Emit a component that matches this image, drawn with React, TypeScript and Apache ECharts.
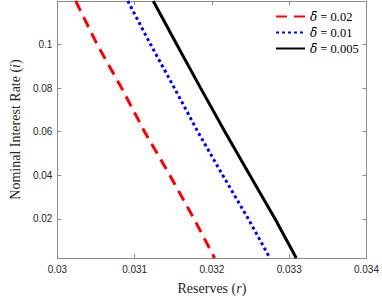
import React, { useEffect, useRef } from "react";
import * as echarts from "echarts";

// Nominal interest rate (y) values at which reserves were read
const interestRates = [0.12, 0.1, 0.08, 0.06, 0.04, 0.02, 0.002];
// Reserves for each delta-bar
const reservesD002 = [0.030237, 0.030515, 0.030832, 0.031128, 0.031455, 0.031768, 0.032035];
const reservesD001 = [0.030911, 0.031207, 0.031515, 0.031817, 0.03214, 0.03247, 0.032749];
const reservesD0005 = [0.031241, 0.031545, 0.031854, 0.032168, 0.032491, 0.032816, 0.033091];

const deltaLabels = ["0.02", "0.01", "0.005"];
const xTicks = [0.03, 0.031, 0.032, 0.033, 0.034];
const yTicks = [0.02, 0.04, 0.06, 0.08, 0.1];

const SERIF = "'DejaVu Serif', 'Liberation Serif', serif";
const SERIF2 = "'Liberation Serif', 'DejaVu Serif', serif";
const SANS = "'Liberation Sans', Arial, sans-serif";
const AXIS_COLOR = "#8a8a8a";
const TEXT_COLOR = "#262626";

const fmt = (v: number) => String(+Number(v).toFixed(4));

export default function App() {
  const ref = useRef<HTMLDivElement>(null);
  useEffect(() => {
    if (!ref.current) return;
    const chart = echarts.init(ref.current, undefined, { renderer: "svg" });
    const pairs = (xs: number[]) => xs.map((x, i) => [x, interestRates[i]]);
    const names = deltaLabels.map((d) => `δ̄ = ${d}`);
    const axisLine = { show: true, lineStyle: { color: AXIS_COLOR, width: 1 } };
    const tickInside = (vals: number[]) => ({
      show: true,
      inside: true,
      length: 4,
      customValues: vals,
      lineStyle: { color: AXIS_COLOR },
    });
    chart.setOption({
      animation: false,
      grid: { left: 40, right: 12, top: 1, bottom: 33, containLabel: false },
      legend: {
        orient: "vertical",
        left: 275,
        top: 10,
        padding: 0,
        itemWidth: 29,
        itemHeight: 14,
        itemGap: 3,
        data: names,
        itemStyle: { opacity: 0, borderWidth: 0 },
        formatter: (n: string) => `{i|δ̄}{t| ${n.slice(n.indexOf("="))}}`,
        textStyle: {
          color: "#000",
          rich: {
            i: { fontFamily: SERIF, fontStyle: "italic", fontSize: 12, color: "#000" },
            t: { fontFamily: SERIF2, fontSize: 12.5, color: "#000" },
          },
        },
      },
      xAxis: [
        {
          type: "value",
          position: "bottom",
          min: 0.03,
          max: 0.034,
          axisLine,
          axisTick: tickInside(xTicks),
          splitLine: { show: false },
          axisLabel: {
            customValues: xTicks,
            formatter: fmt,
            color: TEXT_COLOR,
            fontFamily: SANS,
            fontSize: 10,
            margin: 6,
          },
          name: "{a|Reserves (}{b|r}{a|)}",
          nameLocation: "middle",
          nameGap: 23,
          nameTextStyle: {
            rich: {
              a: { fontFamily: SERIF2, fontSize: 14, color: TEXT_COLOR },
              b: { fontFamily: SERIF2, fontSize: 14, fontStyle: "italic", color: TEXT_COLOR },
            },
          },
        },
        {
          type: "value",
          position: "top",
          min: 0.03,
          max: 0.034,
          axisLine,
          axisTick: tickInside(xTicks),
          axisLabel: { show: false },
          splitLine: { show: false },
        },
      ],
      yAxis: [
        {
          type: "value",
          position: "left",
          min: 0.002,
          max: 0.12,
          axisLine,
          axisTick: tickInside(yTicks),
          splitLine: { show: false },
          axisLabel: {
            customValues: yTicks,
            formatter: fmt,
            color: TEXT_COLOR,
            fontFamily: SANS,
            fontSize: 10,
            margin: 5,
          },
          name: "{a|Nominal Interest Rate (}{b|i}{a|)}",
          nameLocation: "middle",
          nameGap: 24,
          nameTextStyle: {
            rich: {
              a: { fontFamily: SERIF2, fontSize: 14, color: TEXT_COLOR },
              b: { fontFamily: SERIF2, fontSize: 14, fontStyle: "italic", color: TEXT_COLOR },
            },
          },
        },
        {
          type: "value",
          position: "right",
          min: 0.002,
          max: 0.12,
          axisLine,
          axisTick: tickInside(yTicks),
          axisLabel: { show: false },
          splitLine: { show: false },
        },
      ],
      series: [
        {
          name: names[0],
          type: "line",
          data: pairs(reservesD002),
          showSymbol: false,
          symbol: "none",
          lineStyle: { color: "#ff0000", width: 3, type: [11, 7] },
          itemStyle: { color: "#ff0000" },
        },
        {
          name: names[1],
          type: "line",
          data: pairs(reservesD001),
          showSymbol: false,
          symbol: "none",
          lineStyle: { color: "#0000ff", width: 3, type: [3, 3] },
          itemStyle: { color: "#0000ff" },
        },
        {
          name: names[2],
          type: "line",
          data: pairs(reservesD0005),
          showSymbol: false,
          symbol: "none",
          lineStyle: { color: "#000000", width: 3, type: "solid" },
          itemStyle: { color: "#000000" },
        },
      ],
    });
    return () => chart.dispose();
  }, []);
  return (
    <div
      ref={ref}
      style={{ position: "absolute", left: 0, top: 0, width: 382, height: 300, background: "#fff" }}
    />
  );
}
